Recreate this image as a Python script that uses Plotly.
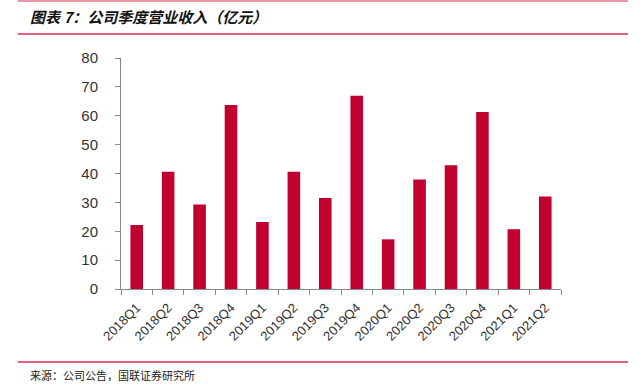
import plotly.graph_objects as go

categories = ["2018Q1", "2018Q2", "2018Q3", "2018Q4", "2019Q1", "2019Q2", "2019Q3",
              "2019Q4", "2020Q1", "2020Q2", "2020Q3", "2020Q4", "2021Q1", "2021Q2"]
revenue = [22.2, 40.6, 29.3, 63.7, 23.2, 40.6, 31.5, 66.9, 17.2, 37.9, 42.9, 61.3, 20.7, 32.0]
y_ticks = [0, 10, 20, 30, 40, 50, 60, 70, 80]

title_text = "图表 7：公司季度营业收入（亿元）"
source_text = "来源：公司公告，国联证券研究所"

W, H = 644, 392
L, R, T, B = 121, 83, 58, 103
pw, ph = W - L - R, H - T - B

def px_x(x):
    return (x - L) / pw

def px_y(y):
    return (H - B - y) / ph

red = "#C0002F"
line_red = "#D42B4F"

fig = go.Figure(go.Bar(x=categories, y=revenue, marker=dict(color=red, line=dict(width=0))))

fig.update_layout(
    width=W, height=H,
    margin=dict(l=L, r=R, t=T, b=B),
    paper_bgcolor="white", plot_bgcolor="white",
    bargap=0.6,
    showlegend=False,
    font=dict(family="Liberation Sans, Arial, sans-serif", color="#333333"),
)
fig.update_xaxes(
    showline=True, linecolor="#888888", linewidth=1,
    ticks="outside", ticklen=5, tickcolor="#888888", tickson="boundaries",
    tickangle=-45, tickfont=dict(size=13, color="#333333"),
    ticklabelstandoff=5,
    showgrid=False,
)
fig.update_yaxes(
    range=[0, 80], tickvals=y_ticks,
    showline=True, linecolor="#888888", linewidth=1,
    ticks="outside", ticklen=5, tickcolor="#888888",
    tickfont=dict(size=15, color="#333333"),
    ticklabelstandoff=14,
    showgrid=False, zeroline=False,
)

shapes = []
for y, w in [(1, 1), (34, 1.5), (362, 1.5)]:
    shapes.append(dict(type="line", xref="paper", yref="paper",
                       x0=px_x(18), x1=px_x(628), y0=px_y(y), y1=px_y(y),
                       line=dict(color=line_red, width=w)))
fig.update_layout(shapes=shapes)

fig.add_annotation(text="<b><i>" + title_text + "</i></b>", xref="paper", yref="paper",
                   x=px_x(28), y=px_y(17), xanchor="left", yanchor="middle",
                   showarrow=False, font=dict(size=15, color="#111111",
                                              family="Noto Sans CJK SC, sans-serif"))
fig.add_annotation(text=source_text, xref="paper", yref="paper",
                   x=px_x(28), y=px_y(375), xanchor="left", yanchor="middle",
                   showarrow=False, font=dict(size=11, color="#222222",
                                              family="Noto Sans CJK SC, sans-serif"))

fig.write_html("out.html", config={"displayModeBar": False},
               post_script="document.body.style.margin='0';")
